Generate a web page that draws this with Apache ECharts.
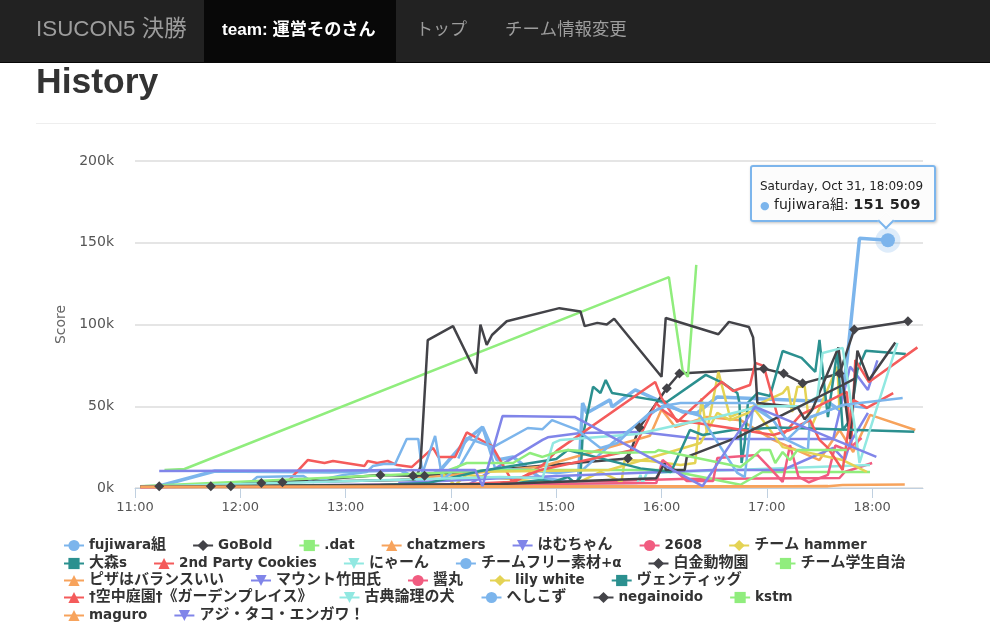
<!DOCTYPE html>
<html><head><meta charset="utf-8">
<style>html,body{margin:0;padding:0;background:#fff}#c{width:990px;height:631px}</style>
<script src="https://cdn.jsdelivr.net/npm/echarts@6/dist/echarts.min.js"></script>
</head><body><div id="c"></div>
<script>
// time = decimal hour of day, score = thousands
const fujiwara=[[11.23,1.2],[11.76,10.4],[12.85,9.8],[13.52,11],[13.71,4.3],[13.9,11],[14.15,29.4],[14.3,37.3],[14.44,17.1],[14.59,19],[14.75,11],[14.85,6.1],[15.21,3.1],[15.25,52],[15.29,45.9],[15.51,53.9],[15.53,49.6],[15.75,60],[15.96,53.9],[16.2,46.5],[16.34,45.9],[16.53,55.7],[17.44,53.2],[17.55,53.9],[17.69,47.7],[17.76,77],[17.88,152.8],[18.15,151.509]];
const goBold=[[11.23,1],[11.72,1],[11.91,1],[12.2,3],[12.4,3.5],[13.33,8],[13.64,7.5],[13.75,7.5],[15.68,18],[15.79,37],[16.05,61],[16.17,70],[16.97,73],[17.16,70],[17.34,64],[17.69,70],[17.83,97],[18.34,102]];
const dat=[[11.28,11],[11.47,11.6],[16.07,129],[16.2,72],[16.25,68],[16.33,136.5]];
const chatzmers=[[13.52,5],[14.85,13],[15.89,32],[16,48],[16.13,37.3],[16.43,43.4],[16.75,41.5],[17.06,29.4],[17.5,17.1],[17.69,35.5],[17.82,22],[17.98,44.7],[18.41,35.5]];
const hamuchan=[[11.05,1],[14.18,2.5],[14.87,29.4],[14.92,31],[15.23,33.7],[15.8,34.3],[16.37,30],[17.63,30],[17.79,74.2],[17.84,70.4],[17.96,60],[18.05,78]];
const n2608=[[11.05,0.6],[14.47,2.5],[16.18,5.5],[17.69,6.1],[17.74,9.8],[18,15.3]];
const hammer=[[13.9,9.8],[14.04,1.8],[14.15,8],[15.16,1.8],[15.42,9.8],[15.62,3.7],[15.65,17.1],[15.89,16.5],[16.18,14],[16.32,15.3],[16.38,55],[16.43,34.3],[16.54,71],[16.65,43.4],[17.15,58],[17.2,62],[17.24,46.5],[17.29,62],[17.36,62],[17.41,35.5],[17.67,74.2],[17.69,47.7]];
const omoris=[[13.2,1],[14.56,2.5],[14.85,4.9],[14.97,3.7],[15.11,6.7],[15.18,3.1],[15.23,6.7],[15.25,31],[15.35,62],[15.42,58.1],[15.47,66],[15.53,58.1],[15.92,53.9],[16.05,52.6],[16.42,69.2],[16.58,64.3],[16.72,58.1],[16.74,52],[16.76,15.3],[16.79,27.5],[16.82,52],[16.91,58.1],[17.03,56.3],[17.15,83.8],[17.33,79.6],[17.46,71],[17.5,90.6],[17.55,60],[17.58,43.4],[17.67,84.4],[17.72,35.5],[17.79,41.5],[17.86,72],[17.94,84],[18.32,82]];
const party2=[[12.42,1.8],[12.64,17.1],[12.8,15.3],[12.88,16.5],[13.18,13.5],[13.21,16.5],[13.3,15.3],[13.4,16.5],[13.49,14],[13.63,12.9],[13.83,24.5],[13.88,19],[14.04,19],[14.15,34],[14.39,25.7],[14.59,3.1],[14.72,8],[14.87,14],[15.01,23],[15.94,64.8],[16,55.1],[16.15,40.4],[16.57,65],[16.68,59.3],[16.84,63],[16.89,76.5],[16.97,74.7],[17.06,53.9],[17.15,32.4],[17.32,44.7],[17.76,58.8],[17.8,25],[17.84,78.3],[17.97,64.8],[18.43,86]];
const nyan=[[11.05,0.5],[15.77,3],[15.8,8],[15.82,3],[15.86,9.2],[16.68,11],[17.98,14]];
const free=[[12.09,3],[12.16,6.7],[12.6,7.3],[12.69,3.7],[12.85,6.1],[12.98,8],[13.2,9.8],[13.26,13.5],[13.36,14.7],[13.47,14.7],[13.58,30],[13.69,30],[13.73,9.2],[13.85,31.8],[13.92,5],[14.09,14],[14.3,37],[14.42,12],[14.73,11],[15.0,9],[15.25,11],[15.54,28],[15.75,38],[16.0,50],[16.18,52],[16.87,52],[17.06,41.5],[17.19,29.4],[17.39,23.2],[17.41,43.4],[17.72,50.7],[17.95,49]];
const shirokane=[[12,3],[13.66,5],[13.71,12.9],[13.78,90.5],[14.02,99],[14.24,70],[14.28,100],[14.34,87.5],[14.39,93.6],[14.53,102],[15.03,110],[15.23,108],[15.27,99],[15.39,101],[15.48,100],[15.55,103.5],[16,68],[16.04,104],[16.54,94],[16.64,101.6],[16.83,98.5],[16.87,92],[16.89,74],[16.91,52],[17.29,49.6],[17.36,42],[17.43,47.7],[17.68,86],[17.79,30],[17.86,84],[17.97,66],[18.22,89]];
const gakusei=[[11.05,1],[14.47,11],[16.05,11],[16.43,6.1],[16.75,2],[16.96,9.8],[17.98,9.8]];
const pizza=[[11.05,0.4],[16.5,0.8],[17.58,1.2]];
const mount=[[13.5,3],[14.47,6],[16.49,11],[17.15,11],[17.63,24.5],[17.74,17.1],[17.79,27.5],[17.96,45.9]];
const hishio=[[11.05,0.5],[15.95,3],[16.01,17.1],[16.11,12],[16.24,4.3],[16.49,4.3],[16.53,18.4],[16.91,20.2],[17.03,12.2],[17.15,3.7],[17.22,26.3],[17.3,7],[17.4,3.5],[17.58,8],[17.65,26],[17.76,23.2],[17.82,26.3],[17.9,30.6]];
const lily=[[14.3,10],[15.5,11],[16.37,27.5],[16.53,46],[16.65,41.5],[16.89,47.7],[17.15,25],[17.72,17.1],[17.95,9.8]];
const venti=[[11.05,1],[13.33,1.8],[13.78,3],[14.28,10.4],[15,17.7],[15.11,23.2],[15.8,12],[16.09,9.8],[16.27,35.5],[16.39,32.4],[16.68,35.5],[17.1,37],[18.4,34.4]];
const garden=[[11.05,0.8],[13.71,1.2],[14.56,3.7],[14.85,11],[15.73,23.2],[15.95,52],[16.01,47.7],[16.15,41.5],[16.27,40.4],[16.65,36.7],[17.06,32.4],[17.22,35.5],[17.41,41.5],[17.5,29.4],[17.58,24.5],[17.72,11],[17.76,29.4],[17.82,53.9],[17.95,49],[18.2,58]];
const koten=[[11.05,0.8],[14.47,6.7],[14.87,6.1],[14.97,27.5],[15.04,29.4],[15.77,33],[16.24,39.8],[16.49,42.8],[16.94,50],[17.32,50],[17.48,55.7],[17.53,82.6],[17.72,85.7],[17.84,35.5],[17.88,15.3],[18.24,88.7]];
const heshikozu=[[14.07,18],[14.15,30.6],[14.4,25],[14.73,36.7],[14.87,36],[14.96,41.5],[15.2,35.5],[15.42,24.5],[15.58,27.5],[15.73,37],[15.89,46],[16.04,50],[16.37,44],[16.72,9.2],[16.79,6.7],[16.84,35.5],[16.87,49.6],[17.06,41.5],[17.19,29.4],[17.41,43],[17.72,50.7],[18.29,55]];
const negainoido=[[11.05,0.8],[14.47,2.5],[15.95,6],[16.03,15],[16.04,11],[16.22,11],[16.24,19],[16.72,31],[17.15,44.7],[17.72,63],[17.84,67]];
const kstm=[[13.9,9],[14.06,12.9],[14.15,15.3],[14.59,15.3],[14.75,21.4],[14.87,19],[15.01,22],[15.11,23.2],[15.54,21.4],[15.94,22],[15.97,23.2],[16.75,12.9],[16.87,19],[16.94,23.2],[17.03,23.2],[17.08,15.3],[17.15,22],[17.22,17.1],[17.29,23.2],[17.76,23.2]];
const maguro=[[11.05,0.8],[14.5,1],[17.58,1],[17.72,1.8],[18.31,2.2]];
const aji=[[11.23,10.4],[13.5,10.8],[14.23,11],[14.3,1.2],[14.49,44],[15.18,43.4],[16.39,1.2],[16.89,49.6],[18.04,19]];

const seriesNames=['fujiwara組','GoBold','.dat','chatzmers','はむちゃん','2608','チーム hammer','大森s','2nd Party Cookies','にゃーん','チームフリー素材+α','白金動物園','チーム学生自治','ピザはバランスいい','マウント竹田氏','醤丸','lily white','ヴェンティッグ','†空中庭園†《ガーデンプレイス》','古典論理の犬','へしこず','negainoido','kstm','maguro','アジ・タコ・エンガワ！'];
const seriesData=[fujiwara,goBold,dat,chatzmers,hamuchan,n2608,hammer,omoris,party2,nyan,free,shirokane,gakusei,pizza,mount,hishio,lily,venti,garden,koten,heshikozu,negainoido,kstm,maguro,aji];
const palette=['#7cb5ec','#434348','#90ed7d','#f7a35c','#8085e9','#f15c80','#e4d354','#2b908f','#f45b5b','#91e8e1'];
const markers=['circle','diamond','rect','triangle','path://M0,0 L10,0 L5,10 Z'];
const hourTicks=[11,12,13,14,15,16,17,18];
const legendRows=[[0,1,2,3,4,5,6],[7,8,9,10,11,12],[13,14,15,16,17],[18,19,20,21,22],[23,24]];
const legendTops=[538,556,573,590,608];
const hovered=fujiwara[fujiwara.length-1];
const FONT='"DejaVu Sans","Noto Sans CJK JP",sans-serif';
const HFONT='"Liberation Sans","Noto Sans CJK JP",sans-serif';
const CSSFONT=FONT.replace(/"/g,"'");

const chart=echarts.init(document.getElementById('c'),null,{width:990,height:631});
const series=seriesNames.map((name,i)=>({
  name,type:'line',smooth:false,animation:false,
  data:i===0?seriesData[i].map((p,k,a)=>k===a.length-1?{value:p,symbol:'circle',symbolSize:14}:{value:p,symbol:'none'}):seriesData[i],
  color:palette[i%10],symbol:markers[i%5],symbolSize:i===1?10:6,
  showSymbol:i<2,showAllSymbol:true,
  lineStyle:{width:i===0?3.5:2.5,color:palette[i%10]},
  itemStyle:{color:palette[i%10]},
  markPoint:i===0?{silent:true,animation:false,label:{show:false},data:[
    {coord:hovered,symbol:'circle',symbolSize:25,itemStyle:{color:'rgba(124,181,236,0.25)'}}]}:undefined
}));
const text=(x,y,t,size,color,weight)=>({type:'text',x,y,z:50,silent:true,style:{text:t,fill:color,font:`${weight||'normal'} ${size}px ${HFONT}`,textVerticalAlign:'middle'}});
const legendLabel=name=>name.replace(/[\u0020-\u007f†α]+|[^\u0020-\u007f†α]+/g,run=>`{${/^[\u0020-\u007f†α]/.test(run)?'l':'j'}|${run}}`);
const richFont=size=>({fontSize:size,fontWeight:'bold',color:'#333',fontFamily:FONT});
chart.setOption({
  animation:false,backgroundColor:'#fff',
  grid:{left:135,top:161,width:788,height:327,containLabel:false},
  xAxis:{type:'value',min:11,max:18.483,
    axisLine:{show:true,onZero:false,lineStyle:{color:'#c0d0e0',width:1}},
    axisTick:{show:true,length:10,lineStyle:{color:'#c0d0e0'},customValues:hourTicks},
    splitLine:{show:false},
    axisLabel:{customValues:hourTicks,formatter:v=>v+':00',color:'#555',fontSize:13,fontFamily:FONT,margin:13}},
  yAxis:{type:'value',min:0,max:200,interval:50,name:'Score',nameLocation:'middle',nameGap:64,
    nameTextStyle:{color:'#666',fontSize:14,fontFamily:FONT},
    axisLine:{show:false},axisTick:{show:false},
    splitLine:{lineStyle:{color:'#dcdcdc',width:1.5}},
    axisLabel:{formatter:v=>v+'k',color:'#555',fontSize:14,fontFamily:FONT,margin:21,padding:[4,0,0,0]}},
  legend:legendRows.map((row,r)=>({
    left:63,top:legendTops[r],orient:'horizontal',itemWidth:20,itemHeight:14,itemGap:26,padding:0,
    selectedMode:false,data:row.map(i=>seriesNames[i]),formatter:legendLabel,
    textStyle:{color:'#333',fontSize:14,fontWeight:'bold',fontFamily:FONT,rich:{l:richFont(13.5),j:richFont(15)}}})),
  tooltip:{show:true,trigger:'item',triggerOn:'none',alwaysShowContent:true,transitionDuration:0,
    position:()=>[750,165],
    backgroundColor:'rgba(252,252,252,0.95)',borderColor:'#7cb5ec',borderWidth:2,borderRadius:3,padding:[12,8,6,8],
    extraCssText:'box-shadow:1px 1px 3px rgba(0,0,0,.25);width:166px;height:35px;overflow:visible;box-sizing:content-box;',
    formatter:()=>`<div style="font:12px ${CSSFONT};color:#222;line-height:14px;white-space:nowrap;">Saturday, Oct 31, 18:09:09</div>`+
      `<div style="font:14px ${CSSFONT};color:#222;line-height:22px;white-space:nowrap;"><span style="color:#7cb5ec;font-size:11px">●</span> fujiwara組: <b style="font-size:14.5px;letter-spacing:.3px">151 509</b></div>`+
      `<div style="position:absolute;left:128px;bottom:-7px;width:10px;height:10px;transform:rotate(45deg);background:#fcfcfc;border-right:2px solid #7cb5ec;border-bottom:2px solid #7cb5ec;"></div>`},
  graphic:[
    {type:'rect',z:40,silent:true,shape:{x:0,y:0,width:990,height:62},style:{fill:'#222222'}},
    {type:'rect',z:41,silent:true,shape:{x:0,y:62,width:990,height:1},style:{fill:'#080808'}},
    {type:'rect',z:41,silent:true,shape:{x:204,y:0,width:192,height:62},style:{fill:'#080808'}},
    text(36,30,'ISUCON5 決勝',22.4,'#9d9d9d'),
    text(222,30,'team: 運営そのさん',17.2,'#ffffff','bold'),
    text(416,30,'トップ',17,'#9d9d9d'),
    text(505,30,'チーム情報変更',17.4,'#9d9d9d'),
    text(36,83,'History',35.5,'#333333','bold'),
    {type:'rect',z:41,silent:true,shape:{x:36,y:123,width:900,height:1},style:{fill:'#eeeeee'}}
  ],
  series
});
chart.dispatchAction({type:'showTip',seriesIndex:0,dataIndex:fujiwara.length-1});
</script></body></html>
